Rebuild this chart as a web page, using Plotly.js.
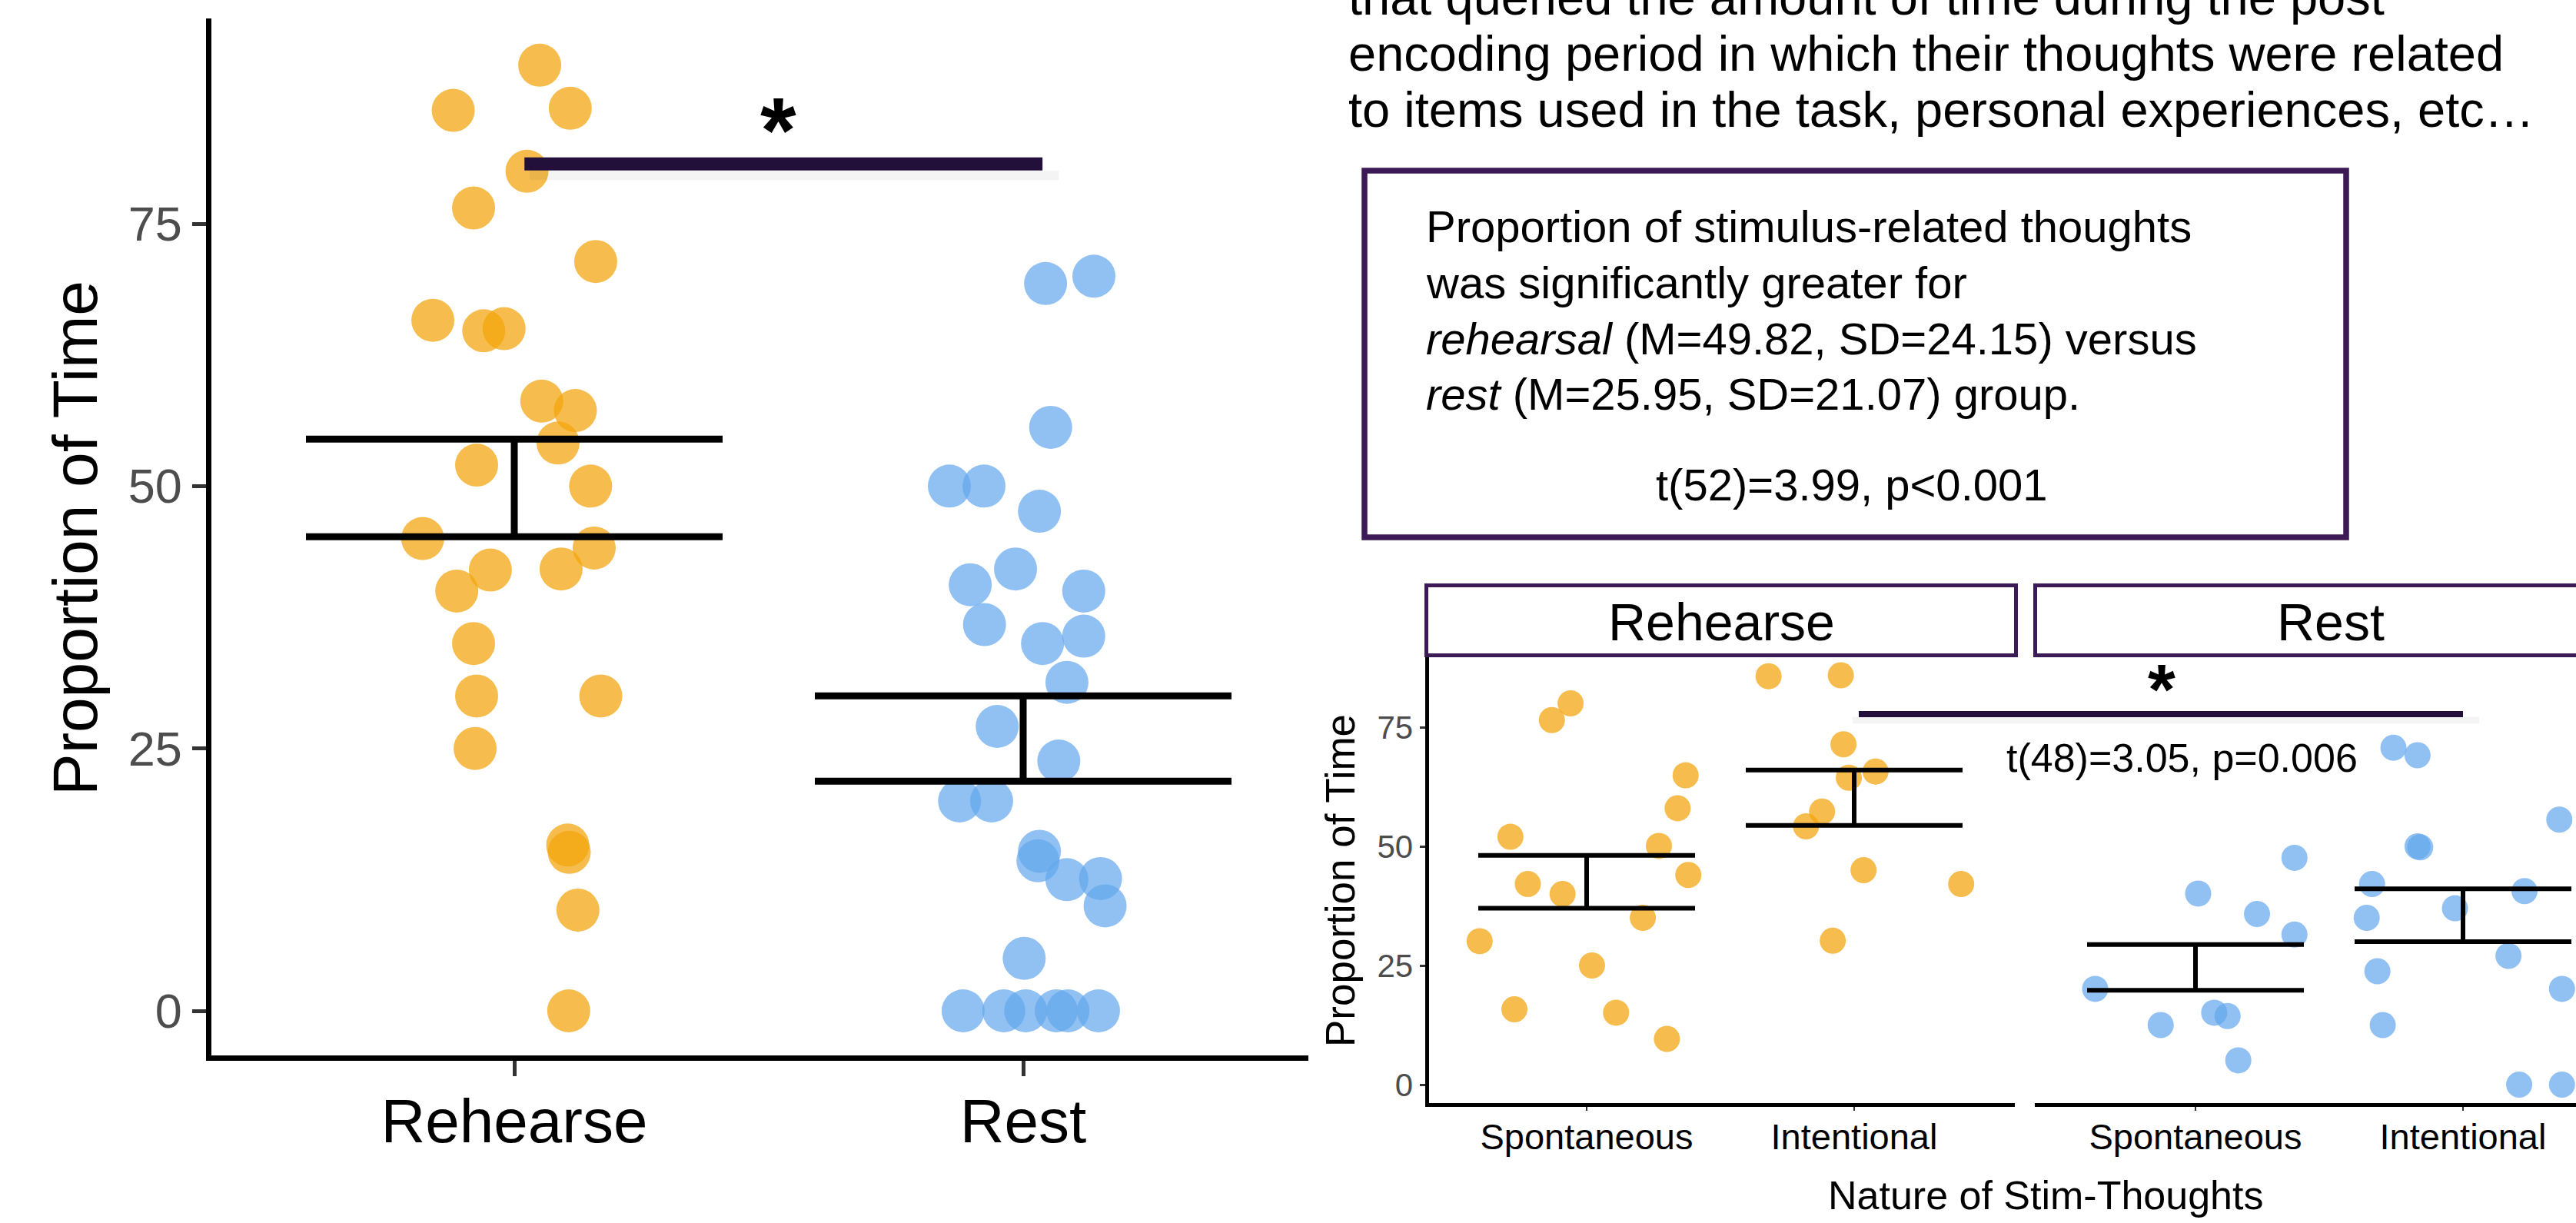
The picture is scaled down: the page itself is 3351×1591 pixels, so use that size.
<!DOCTYPE html>
<html><head><meta charset="utf-8">
<script src="https://cdn.plot.ly/plotly-3.0.1.min.js"></script>
<style>html,body{margin:0;padding:0;background:#fff;overflow:hidden}#chart{width:3351px;height:1591px}</style>
</head><body><div id="chart"></div>
<script>
// ---------- data ----------
const groups = ['Rehearse', 'Rest'];
const rehearseProp = [90.1, 85.8, 86.0, 80.0, 76.5, 71.4, 65.8, 64.8, 65.0, 58.1, 57.2, 54.1, 52.0, 50.0, 45.0, 44.1, 42.0, 42.1, 40.0, 35.0, 30.0, 30.0, 25.0, 15.8, 15.1, 9.6, 0];
const rehearseJitter = [0.05, -0.12, 0.11, 0.025, -0.08, 0.16, -0.16, -0.06, -0.02, 0.054, 0.12, 0.086, -0.074, 0.15, -0.18, 0.157, -0.047, 0.092, -0.113, -0.08, -0.074, 0.17, -0.077, 0.105, 0.108, 0.125, 0.107];
const restProp = [69.3, 70.0, 55.6, 50.0, 50.0, 47.6, 42.1, 40.6, 40.0, 36.8, 35.0, 35.7, 31.3, 27.1, 23.8, 20.0, 20.0, 15.2, 14.3, 12.5, 12.6, 10.0, 5.0, 0, 0, 0, 0, 0, 0];
const restJitter = [0.044, 0.139, 0.054, -0.145, -0.077, 0.032, -0.015, -0.104, 0.119, -0.076, 0.038, 0.119, 0.086, -0.051, 0.07, -0.125, -0.062, 0.032, 0.029, 0.086, 0.152, 0.161, 0.002, -0.118, -0.038, 0.005, 0.065, 0.088, 0.148];
const groupMean = [49.82, 25.95];
const groupSE = [4.65, 4.06];

const natureCats = ['Spontaneous', 'Intentional'];
const rehSponProp = [80.0, 76.5, 64.9, 58.0, 52.0, 50.1, 44.0, 42.1, 40.0, 35.0, 30.1, 25.0, 15.8, 15.1, 9.6];
const rehSponJitter = [-0.06, -0.13, 0.37, 0.34, -0.285, 0.27, 0.38, -0.22, -0.09, 0.21, -0.40, 0.02, -0.27, 0.11, 0.30];
const rehIntProp = [85.7, 85.9, 71.4, 65.7, 64.4, 57.3, 54.2, 45.0, 42.1, 30.2];
const rehIntJitter = [-0.32, -0.05, -0.04, 0.08, -0.02, -0.12, -0.18, 0.035, 0.40, -0.08];
const restSponProp = [47.6, 40.1, 35.8, 31.5, 20.1, 15.1, 14.4, 12.5, 5.1];
const restSponJitter = [0.37, 0.01, 0.23, 0.37, -0.375, 0.07, 0.12, -0.13, 0.16];
const restIntProp = [70.7, 69.1, 55.6, 50.0, 49.8, 42.1, 40.6, 37.0, 35.0, 27.0, 23.8, 20.1, 12.5, 0, 0];
const restIntJitter = [-0.26, -0.17, 0.36, -0.17, -0.16, -0.34, 0.23, -0.03, -0.36, 0.17, -0.32, 0.37, -0.30, 0.21, 0.37];
const rehCellMean = [42.55, 60.2];
const rehCellSE = [5.55, 5.8];
const restCellMean = [24.6, 35.55];
const restCellSE = [4.8, 5.55];

const yTicks = [0, 25, 50, 75];
const introLines = [
  'that queried the amount of time during the post',
  'encoding period in which their thoughts were related',
  'to items used in the task, personal experiences, etc\u2026'
];
const boxLines = [
  'Proportion of stimulus-related thoughts',
  'was significantly greater for',
  '<i>rehearsal</i> (M=49.82, SD=24.15) versus',
  '<i>rest</i> (M=25.95, SD=21.07) group.'
];
const mainTest = 't(52)=3.99, p<0.001';
const facetTest = 't(48)=3.05, p=0.006';

// ---------- layout helpers ----------
const W = 3351, H = 1591;
const px = x => x / W;
const py = y => 1 - y / H;
const FONT = 'Liberation Sans, Arial, Helvetica, sans-serif';
const ORANGE = 'rgba(243,164,10,0.72)';
const BLUE = 'rgba(98,166,236,0.7)';
const PURPLE = '#3B1A55';
const BARPURPLE = '#22103A';
const shift = (base, offs) => offs.map(o => base + o);

function pts(x, y, color, size, xa, ya) {
  return {type: 'scatter', mode: 'markers', x: x, y: y, xaxis: xa, yaxis: ya,
    marker: {size: size, color: color, line: {width: 0}}, hoverinfo: 'skip', showlegend: false};
}
function ebar(x, y, se, xa, ya, th, w) {
  return {type: 'scatter', mode: 'markers', x: x, y: y, xaxis: xa, yaxis: ya,
    marker: {size: 1, color: 'rgba(0,0,0,0)'},
    error_y: {type: 'data', array: se, visible: true, color: '#000', thickness: th, width: w},
    hoverinfo: 'skip', showlegend: false};
}

const traces = [
  pts(shift(0, rehearseJitter), rehearseProp, ORANGE, 56, 'x', 'y'),
  pts(shift(1, restJitter), restProp, BLUE, 56, 'x', 'y'),
  ebar([0, 1], groupMean, groupSE, 'x', 'y', 9, 271),
  pts(shift(0, rehSponJitter), rehSponProp, ORANGE, 34, 'x2', 'y2'),
  pts(shift(1, rehIntJitter), rehIntProp, ORANGE, 34, 'x2', 'y2'),
  pts(shift(0, restSponJitter), restSponProp, BLUE, 34, 'x3', 'y3'),
  pts(shift(1, restIntJitter), restIntProp, BLUE, 34, 'x3', 'y3'),
  ebar([0, 1], rehCellMean, rehCellSE, 'x2', 'y2', 6, 141),
  ebar([0, 1], restCellMean, restCellSE, 'x3', 'y3', 6, 141)
];

// main panel geometry (pixels)
const mL = 274.5, mR = 1702, mT = 24, mB = 1372.5;
const mX0 = 669, mXu = 662, mY0 = 1315, mYu = 13.653;
// facet geometry
const fT = 855, fB = 1434.5, fY0 = 1411, fYu = 6.2, fXu = 348;
const f1L = 1858.5, f1R = 2621, f1X0 = 2064;
const f2L = 2647, f2R = 3351, f2X0 = 2856;

const baseAxis = {showgrid: false, zeroline: false, fixedrange: true};

const layout = {
  width: W, height: H, margin: {l: 0, r: 0, t: 0, b: 0},
  paper_bgcolor: '#fff', plot_bgcolor: 'rgba(0,0,0,0)', showlegend: false,
  font: {family: FONT, color: '#000'},
  xaxis: Object.assign({}, baseAxis, {
    domain: [px(mL), px(mR)], range: [(mL - mX0) / mXu, (mR - mX0) / mXu], anchor: 'y',
    tickmode: 'array', tickvals: [0, 1], ticktext: groups,
    showline: true, linewidth: 7, linecolor: '#000',
    ticks: 'outside', ticklen: 20, tickwidth: 5, tickcolor: '#333',
    ticklabelstandoff: -10,
    tickfont: {size: 80, color: '#000', family: FONT}
  }),
  yaxis: Object.assign({}, baseAxis, {
    domain: [py(mB), py(mT)], range: [(mY0 - mB) / mYu, (mY0 - mT) / mYu], anchor: 'x',
    tickmode: 'array', tickvals: yTicks,
    showline: true, linewidth: 7, linecolor: '#000',
    ticks: 'outside', ticklen: 18, tickwidth: 5, tickcolor: '#333',
    tickfont: {size: 63, color: '#4D4D4D', family: FONT}
  }),
  xaxis2: Object.assign({}, baseAxis, {
    domain: [px(f1L), px(f1R)], range: [(f1L - f1X0) / fXu, (f1R - f1X0) / fXu], anchor: 'y2',
    tickmode: 'array', tickvals: [0, 1], ticktext: natureCats,
    showline: true, linewidth: 5, linecolor: '#000',
    ticks: 'outside', ticklen: 5, tickwidth: 2, tickcolor: '#333',
    ticklabelstandoff: -6,
    tickfont: {size: 47, color: '#000', family: FONT}
  }),
  yaxis2: Object.assign({}, baseAxis, {
    domain: [py(fB), py(fT)], range: [(fY0 - fB) / fYu, (fY0 - fT) / fYu], anchor: 'x2',
    tickmode: 'array', tickvals: yTicks,
    showline: true, linewidth: 5, linecolor: '#000',
    ticks: 'outside', ticklen: 7, tickwidth: 3, tickcolor: '#333',
    tickfont: {size: 42, color: '#4D4D4D', family: FONT}
  }),
  xaxis3: Object.assign({}, baseAxis, {
    domain: [px(f2L), 1], range: [(f2L - f2X0) / fXu, (f2R - f2X0) / fXu], anchor: 'y3',
    tickmode: 'array', tickvals: [0, 1], ticktext: natureCats,
    showline: true, linewidth: 5, linecolor: '#000',
    ticks: 'outside', ticklen: 5, tickwidth: 2, tickcolor: '#333',
    ticklabelstandoff: -6,
    tickfont: {size: 47, color: '#000', family: FONT}
  }),
  yaxis3: Object.assign({}, baseAxis, {
    domain: [py(fB), py(fT)], range: [(fY0 - fB) / fYu, (fY0 - fT) / fYu], anchor: 'x3',
    showline: false, showticklabels: false, ticks: ''
  }),
  shapes: [
    // significance bars (main)
    {type: 'line', xref: 'x', yref: 'y', x0: 0.03, x1: 1.07, y0: 79.6, y1: 79.6, line: {color: 'rgba(0,0,0,0.045)', width: 12}},
    {type: 'line', xref: 'x', yref: 'y', x0: 0.02, x1: 1.038, y0: 80.7, y1: 80.7, line: {color: BARPURPLE, width: 17}},
    // significance bar (facet)
    {type: 'line', xref: 'paper', yref: 'paper', x0: px(2410), x1: px(3225), y0: py(937), y1: py(937), line: {color: 'rgba(0,0,0,0.045)', width: 9}},
    {type: 'line', xref: 'paper', yref: 'paper', x0: px(2418), x1: px(3204), y0: py(929), y1: py(929), line: {color: BARPURPLE, width: 8}},
    // text box
    {type: 'rect', xref: 'paper', yref: 'paper', x0: px(1775), x1: px(3052), y0: py(222), y1: py(699), line: {color: PURPLE, width: 7.5}, fillcolor: 'rgba(0,0,0,0)'},
    // facet strips
    {type: 'rect', xref: 'paper', yref: 'paper', x0: px(1855.5), x1: px(2622.5), y0: py(761.5), y1: py(852.5), line: {color: PURPLE, width: 5}, fillcolor: '#fff'},
    {type: 'rect', xref: 'paper', yref: 'paper', x0: px(2647.5), x1: px(3420), y0: py(761.5), y1: py(852.5), line: {color: PURPLE, width: 5}, fillcolor: '#fff'}
  ],
  annotations: []
};

const A = layout.annotations;
function txt(text, x, y, size, opts) {
  A.push(Object.assign({text: text, xref: 'paper', yref: 'paper', x: px(x), y: py(y),
    showarrow: false, xanchor: 'center', yanchor: 'middle',
    font: {family: FONT, size: size, color: '#000'}}, opts || {}));
}
// titles
txt('Proportion of Time', 97, 700, 82, {textangle: -90});
txt('Proportion of Time', 1743, 1146, 53, {textangle: -90});
txt('Nature of Stim-Thoughts', 2661, 1555, 52);
// strips
txt(groups[0], 2239, 809, 68);
txt(groups[1], 3032, 809, 68);
// intro text
introLines.forEach((t, i) => txt(t, 1752, -3 + 73 * i, 65, {xanchor: 'left'}));
// box text
boxLines.forEach((t, i) => txt(t, 1853, 294 + 73 * i, 58, {xanchor: 'left'}));
txt(mainTest, 2409, 631, 58);
txt(facetTest, 2838, 986, 52);
// asterisks
txt('<b>*</b>', 1012, 169, 120);
txt('<b>*</b>', 2812, 897, 92);

Plotly.newPlot('chart', traces, layout, {displayModeBar: false, staticPlot: true});
</script></body></html>
